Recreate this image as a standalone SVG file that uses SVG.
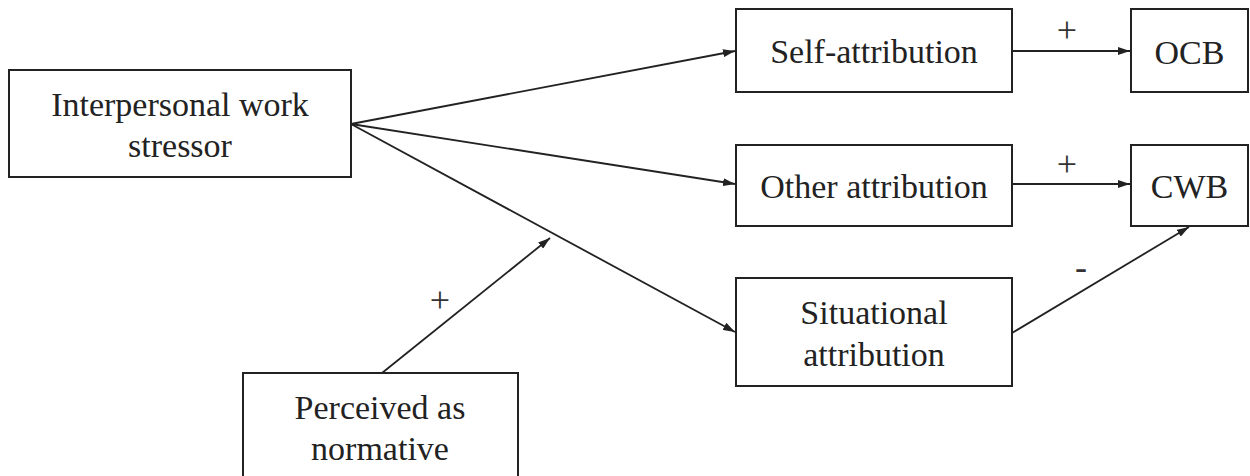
<svg xmlns="http://www.w3.org/2000/svg" width="1250" height="476" viewBox="0 0 1250 476">
<style>
.box{fill:#fff;stroke:#222;stroke-width:2}
.lbl{font-family:'Liberation Serif','DejaVu Serif',serif;font-size:34px;fill:#222;text-anchor:middle}
.sgn{font-family:'Liberation Serif','DejaVu Serif',serif;font-size:36px;fill:#333;text-anchor:middle}
.edge{stroke:#222;stroke-width:1.8;fill:none;marker-end:url(#ah)}
</style>
<defs>
<marker id="ah" viewBox="0 0 12 8" refX="12" refY="4" markerWidth="12" markerHeight="8" markerUnits="userSpaceOnUse" orient="auto">
<path d="M0,0 L12,4 L0,8 Z" fill="#222"/>
</marker>
</defs>
<rect width="1250" height="476" fill="#fff"/>
<g id="connectors">
<line class="edge" x1="351" y1="124" x2="735" y2="51"/>
<line class="edge" x1="351" y1="124" x2="735" y2="184"/>
<line class="edge" x1="351" y1="124" x2="735" y2="332"/>
<line class="edge" x1="382" y1="373" x2="550" y2="238"/>
<line class="edge" x1="1012" y1="51" x2="1130" y2="51"/>
<line class="edge" x1="1012" y1="184" x2="1130" y2="184"/>
<line class="edge" x1="1012" y1="333" x2="1189" y2="227"/>
<text class="sgn" x="1067" y="42">+</text>
<text class="sgn" x="1067" y="176">+</text>
<text class="sgn" x="440" y="312">+</text>
<text class="sgn" x="1081" y="279">-</text>
</g>
<g id="interpersonal">
<rect class="box" x="9" y="70" width="342" height="107"/>
<text class="lbl" x="180" y="116">Interpersonal work</text>
<text class="lbl" x="180" y="157">stressor</text>
</g>
<g id="self">
<rect class="box" x="736" y="9" width="276" height="83"/>
<text class="lbl" x="874" y="63">Self-attribution</text>
</g>
<g id="ocb">
<rect class="box" x="1131" y="9" width="117" height="83"/>
<text class="lbl" x="1189.5" y="64">OCB</text>
</g>
<g id="other">
<rect class="box" x="736" y="145" width="276" height="81"/>
<text class="lbl" x="874" y="198">Other attribution</text>
</g>
<g id="cwb">
<rect class="box" x="1131" y="145" width="117" height="81"/>
<text class="lbl" x="1189.5" y="198">CWB</text>
</g>
<g id="situational">
<rect class="box" x="736" y="278" width="276" height="108"/>
<text class="lbl" x="874" y="324">Situational</text>
<text class="lbl" x="874" y="366">attribution</text>
</g>
<g id="perceived">
<rect class="box" x="243" y="373" width="275" height="110"/>
<text class="lbl" x="380" y="419">Perceived as</text>
<text class="lbl" x="380" y="460">normative</text>
</g>
</svg>
